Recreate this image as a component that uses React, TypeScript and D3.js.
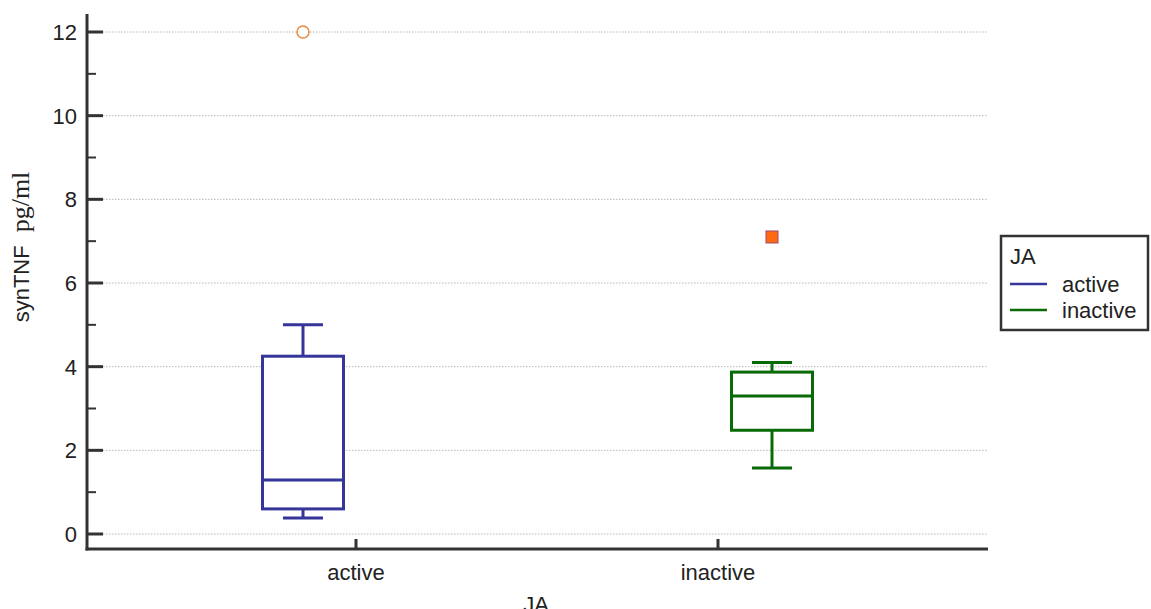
import * as d3 from 'd3';

// box statistics
const groups = ['active', 'inactive'];
const groupColors = ['#35359a', '#086b08'];
const whiskerLow = [0.38, 1.58];
const q1 = [0.6, 2.48];
const median = [1.29, 3.3];
const q3 = [4.25, 3.87];
const whiskerHigh = [5.0, 4.1];
// outliers: [groupIndex, value, kind]
const outliers: Array<[number, number, string]> = [
  [0, 12, 'circle'],
  [1, 7.1, 'square'],
];
const yTicks = [0, 2, 4, 6, 8, 10, 12];
const yMinor = [1, 3, 5, 7, 9, 11];

export default function App() {
  const W = 1151;
  const H = 609;
  const left = 87;
  const right = 988;
  const bottom = 549;

  const y = d3.scaleLinear().domain([0, 12]).range([534, 32]);
  const x = d3.scalePoint<string>().domain(groups).range([356, 718]);
  const dodge = [-53, 54];
  const boxW = 81;
  const capW = 40;
  const font = 'Liberation Sans, Arial, sans-serif';
  const fs = 22;

  return (
    <svg width={W} height={H} style={{ position: 'absolute', left: 0, top: 0 }}>
      <rect width={W} height={H} fill="#fff" />
      {/* grid */}
      {yTicks.map(t => (
        <line key={'g' + t} x1={103} x2={right} y1={y(t)} y2={y(t)}
          stroke="#b8b8b8" strokeWidth={1} strokeDasharray="1.5,1.5" />
      ))}
      {/* y axis */}
      <line x1={left} x2={left} y1={14} y2={bottom + 1.5} stroke="#333" strokeWidth={3} />
      {yTicks.map(t => (
        <g key={'t' + t}>
          <line x1={left} x2={103} y1={y(t)} y2={y(t)} stroke="#333" strokeWidth={3} />
          <text x={77} y={y(t)} dy="0.36em" textAnchor="end" fontFamily={font} fontSize={fs} fill="#222">{t}</text>
        </g>
      ))}
      {yMinor.map(t => (
        <line key={'m' + t} x1={left} x2={96} y1={y(t)} y2={y(t)} stroke="#333" strokeWidth={2} />
      ))}
      {/* x axis */}
      <line x1={left - 1.5} x2={right} y1={bottom} y2={bottom} stroke="#333" strokeWidth={3} />
      {groups.map(g => (
        <g key={'x' + g}>
          <line x1={x(g)} x2={x(g)} y1={539} y2={bottom} stroke="#333" strokeWidth={3} />
          <text x={x(g)} y={580} textAnchor="middle" fontFamily={font} fontSize={fs} fill="#222">{g}</text>
        </g>
      ))}
      <text x={536} y={612} textAnchor="middle" fontFamily={font} fontSize={fs} fill="#222">JA</text>
      {/* y title */}
      <text transform="translate(29,247) rotate(-90)" textAnchor="middle" fill="#222">
        <tspan fontFamily={font} fontSize={fs}>synTNF</tspan>
        <tspan fontFamily="Liberation Serif, Times New Roman, serif" fontSize={26} dx={13}>pg/ml</tspan>
      </text>
      {/* boxes */}
      {groups.map((g, i) => {
        const cx = (x(g) as number) + dodge[i];
        const c = groupColors[i];
        return (
          <g key={'b' + g} stroke={c} strokeWidth={3} fill="none">
            <line x1={cx} x2={cx} y1={y(whiskerHigh[i])} y2={y(q3[i])} />
            <line x1={cx} x2={cx} y1={y(q1[i])} y2={y(whiskerLow[i])} />
            <line x1={cx - capW / 2} x2={cx + capW / 2} y1={y(whiskerHigh[i])} y2={y(whiskerHigh[i])} />
            <line x1={cx - capW / 2} x2={cx + capW / 2} y1={y(whiskerLow[i])} y2={y(whiskerLow[i])} />
            <rect x={cx - boxW / 2} y={y(q3[i])} width={boxW} height={y(q1[i]) - y(q3[i])} fill="#fff" />
            <line x1={cx - boxW / 2} x2={cx + boxW / 2} y1={y(median[i])} y2={y(median[i])} />
          </g>
        );
      })}
      {/* outliers */}
      {outliers.map(([gi, v, kind], k) => {
        const cx = (x(groups[gi]) as number) + dodge[gi];
        return kind === 'circle' ? (
          <circle key={'o' + k} cx={cx} cy={y(v)} r={6} fill="#fff" stroke="#ec8a3c" strokeWidth={1.5} />
        ) : (
          <rect key={'o' + k} x={cx - 6} y={y(v) - 6} width={12} height={12} fill="#ff6a10" stroke="#9a4a6a" strokeWidth={1} />
        );
      })}
      {/* legend */}
      <rect x={1001} y={236} width={147} height={94} fill="#fff" stroke="#333" strokeWidth={2.5} />
      <text x={1010} y={264} fontFamily={font} fontSize={fs} fill="#222">JA</text>
      {groups.map((g, i) => (
        <g key={'l' + g}>
          <line x1={1010} x2={1047} y1={284 + i * 26} y2={284 + i * 26} stroke={groupColors[i]} strokeWidth={2.5} />
          <text x={1062} y={284 + i * 26} dy="0.36em" fontFamily={font} fontSize={fs} fill="#222">{g}</text>
        </g>
      ))}
    </svg>
  );
}
